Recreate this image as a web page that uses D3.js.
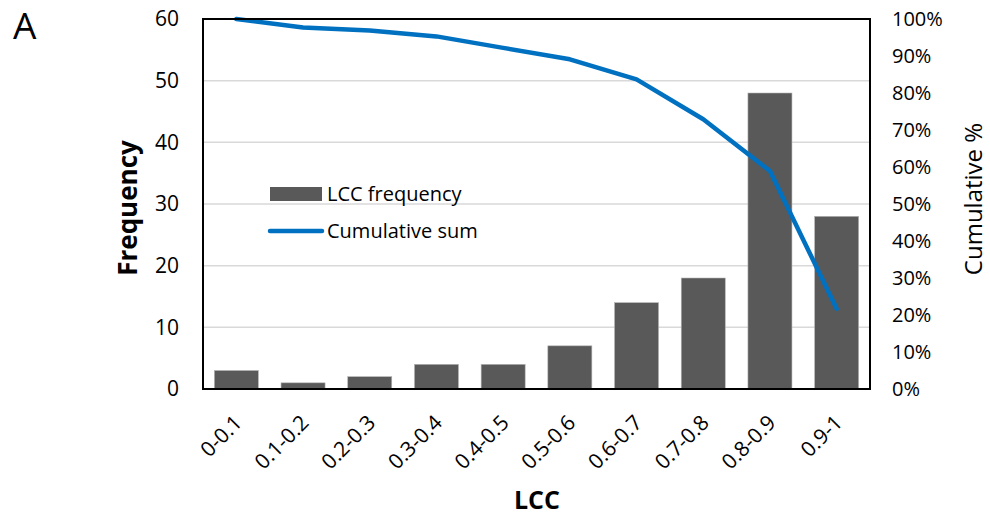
<!DOCTYPE html>
<html>
<head>
<meta charset="utf-8">
<script src="https://cdn.jsdelivr.net/npm/d3@7/dist/d3.min.js"></script>
<style>
  html, body { margin: 0; padding: 0; background: #fff; }
  svg { display: block; font-family: "Open Sans", sans-serif; }
</style>
</head>
<body>
<svg id="chart" width="990" height="519"></svg>
<script>
// ---- data ----
const categories = ["0-0.1","0.1-0.2","0.2-0.3","0.3-0.4","0.4-0.5","0.5-0.6","0.6-0.7","0.7-0.8","0.8-0.9","0.9-1"];
const frequency = [3, 1, 2, 4, 4, 7, 14, 18, 48, 28];
const cumulative = [1.000, 0.977, 0.969, 0.953, 0.922, 0.891, 0.837, 0.729, 0.589, 0.217];
const leftTicks = [0, 10, 20, 30, 40, 50, 60];
const rightTicks = [0, 0.1, 0.2, 0.3, 0.4, 0.5, 0.6, 0.7, 0.8, 0.9, 1.0];

// ---- layout ----
const L = 203, R = 870, T = 19, B = 389;
const svg = d3.select("#chart");

const x = d3.scaleBand().domain(categories).range([L, R]).paddingInner(0.34).paddingOuter(0.17);
const yL = d3.scaleLinear().domain([0, 60]).range([B, T]);
const yR = d3.scaleLinear().domain([0, 1]).range([B, T]);

// gridlines
svg.append("g").selectAll("line")
  .data(leftTicks.filter(d => d > 0 && d < 60))
  .join("line")
  .attr("x1", L).attr("x2", R)
  .attr("y1", d => yL(d)).attr("y2", d => yL(d))
  .attr("stroke", "#d9d9d9").attr("stroke-width", 1.5);

// bars
svg.append("g").selectAll("rect")
  .data(frequency)
  .join("rect")
  .attr("x", (d, i) => x(categories[i]))
  .attr("width", x.bandwidth())
  .attr("y", d => yL(d))
  .attr("height", d => B - yL(d))
  .attr("fill", "#595959")
  .attr("stroke", "#b5b5b5").attr("stroke-width", 0.6);

// cumulative line
const line = d3.line()
  .x((d, i) => x(categories[i]) + x.bandwidth() / 2)
  .y(d => yR(d));
svg.append("path")
  .datum(cumulative)
  .attr("d", line)
  .attr("fill", "none")
  .attr("stroke", "#0070C0")
  .attr("stroke-width", 4.5)
  .attr("stroke-linejoin", "round")
  .attr("stroke-linecap", "round");

// frame
svg.append("rect")
  .attr("x", L).attr("y", T).attr("width", R - L).attr("height", B - T)
  .attr("fill", "none").attr("stroke", "#000").attr("stroke-width", 2);

// left axis
const gl = svg.append("g").attr("transform", `translate(${L},0)`)
  .call(d3.axisLeft(yL).tickValues(leftTicks).tickSize(0).tickPadding(24));
gl.select(".domain").remove();
gl.selectAll("text").attr("font-size", 21).attr("fill", "#000").attr("font-family", "Open Sans, sans-serif");

// right axis
const gr = svg.append("g").attr("transform", `translate(${R},0)`)
  .call(d3.axisRight(yR).tickValues(rightTicks).tickFormat(d3.format(".0%")).tickSize(0).tickPadding(22));
gr.select(".domain").remove();
gr.selectAll("text").attr("font-size", 20).attr("fill", "#000").attr("font-family", "Open Sans, sans-serif");

// x axis labels
const gx = svg.append("g").attr("transform", `translate(0,${B})`)
  .call(d3.axisBottom(x).tickSize(0).tickPadding(0));
gx.select(".domain").remove();
gx.selectAll("text")
  .attr("font-size", 21).attr("fill", "#000").attr("font-family", "Open Sans, sans-serif")
  .attr("text-anchor", "end")
  .attr("dy", 0).attr("y", 0)
  .attr("transform", "translate(7,35) rotate(-45)");

// axis titles
svg.append("text").attr("x", 537).attr("y", 509).attr("text-anchor", "middle")
  .attr("font-size", 25).attr("font-weight", "bold").text("LCC");
svg.append("text").attr("transform", "translate(137,208) rotate(-90)").attr("text-anchor", "middle")
  .attr("font-size", 26).attr("font-weight", "bold").text("Frequency");
svg.append("text").attr("transform", "translate(982,199) rotate(-90)").attr("text-anchor", "middle")
  .attr("font-size", 24).text("Cumulative %");

// panel label
svg.append("text").attr("x", 13).attr("y", 39).attr("font-size", 37).text("A");

// legend
const lg = svg.append("g");
lg.append("rect").attr("x", 270).attr("y", 187).attr("width", 52).attr("height", 14).attr("fill", "#595959");
lg.append("text").attr("x", 327).attr("y", 194).attr("dy", "0.35em").attr("font-size", 20).text("LCC frequency");
lg.append("line").attr("x1", 270).attr("x2", 322).attr("y1", 231).attr("y2", 231)
  .attr("stroke", "#0070C0").attr("stroke-width", 4.5).attr("stroke-linecap", "round");
lg.append("text").attr("x", 327).attr("y", 231).attr("dy", "0.35em").attr("font-size", 20).text("Cumulative sum");
</script>
</body>
</html>
